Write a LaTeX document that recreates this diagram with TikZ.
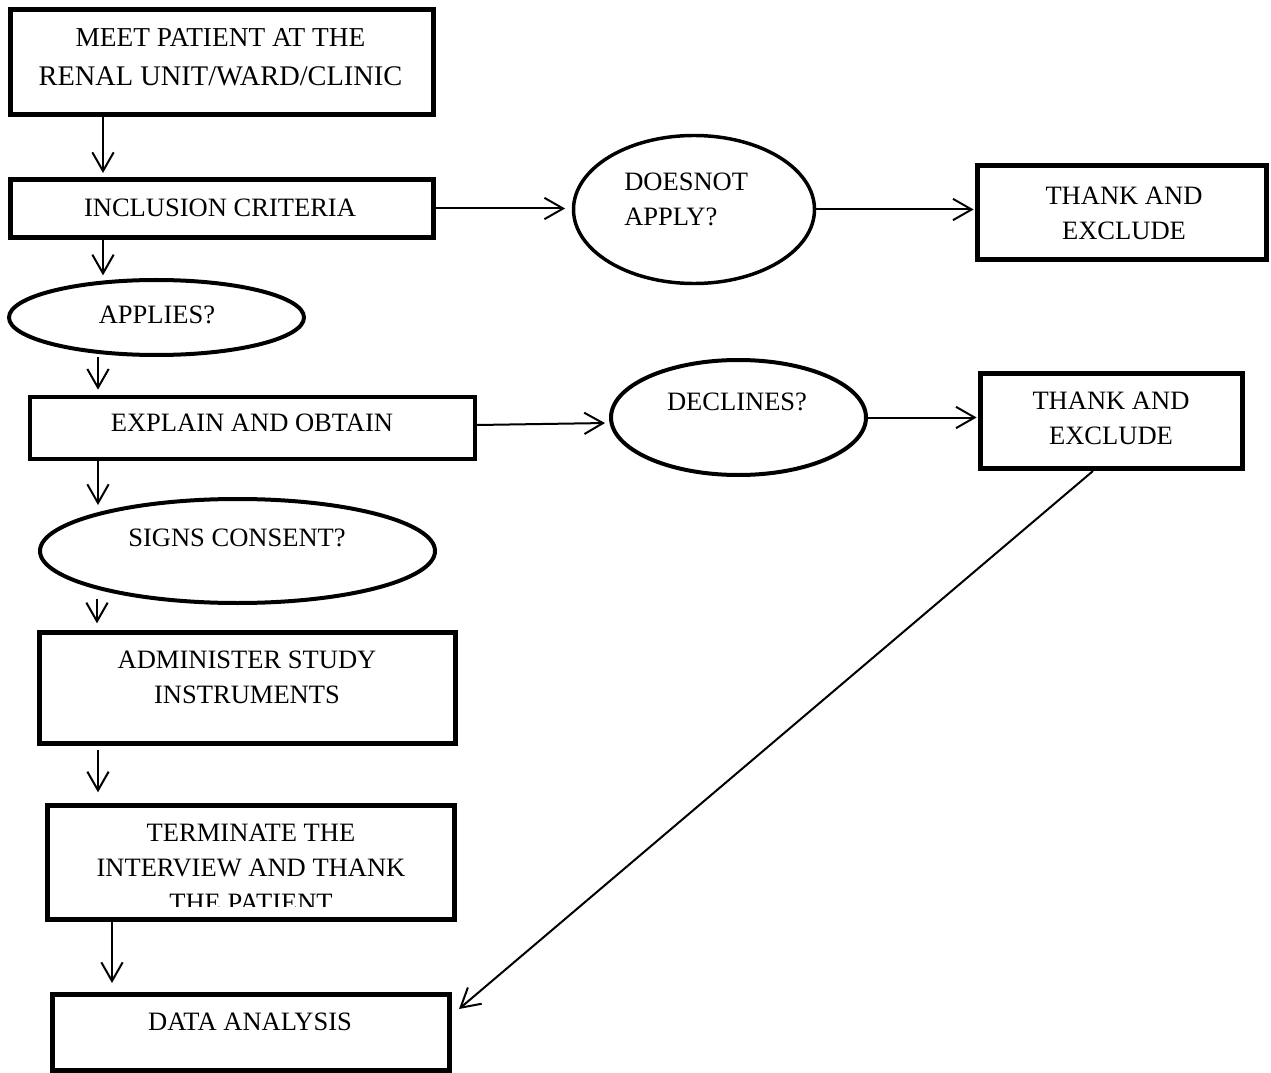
\documentclass[tikz,border=0pt]{standalone}
\usepackage{fontspec}
\setmainfont{Liberation Serif}
\usetikzlibrary{shapes.geometric,arrows.meta}
\tikzset{
  box/.style 2 args={draw=black, rectangle, inner sep=0pt, line width=3.75pt,
    minimum width=0.75pt*#1, minimum height=0.75pt*#2},
  oval/.style 2 args={draw=black, ellipse, inner sep=0pt, line width=3pt,
    minimum width=0.75pt*#1, minimum height=0.75pt*#2},
  txt/.style={inner sep=0pt, align=center, font=\fontsize{19.9}{26.25}\selectfont},
  arr/.style={line width=1.5pt, -{Straight Barb[length=14pt,width=16pt,line width=1.5pt]}},
}
\begin{document}
\begin{tikzpicture}[x=0.75pt,y=-0.75pt]
\useasboundingbox[fill=white] (0,0) rectangle (1271,1073);

% boxes and ovals
\node[box={422.5}{104.5}] (b1) at (221.75,62.25) {};
\node[box={422.5}{58}] (b2) at (221.75,208.5) {};
\node[oval={241}{148}, line width=2.6pt] (e1) at (694,209.5) {};
\node[box={289}{94}] (b3) at (1122,212.5) {};
\node[oval={295}{75}] (e2) at (156.5,317.5) {};
\node[box={445}{62}, line width=3pt] (b4) at (252.5,428) {};
\node[oval={255}{115}] (e3) at (738.5,417.5) {};
\node[box={262}{95}] (b5) at (1111.5,421) {};
\node[oval={395}{104}] (e4) at (237.5,551) {};
\node[box={416}{111}] (b6) at (247.5,688) {};
\node[box={407}{114}] (b7) at (251,862.5) {};
\node[box={397}{76}] (b8) at (251,1032.5) {};

% texts
\node[txt, font=\fontsize{20.5}{29.25}\selectfont] (t1) at (220.5,57.5)
  {MEET PATIENT AT THE\\{\fontsize{21.3}{29.25}\selectfont RENAL UNIT/WARD/CLINIC}};
\node[txt] (t2) at (220,208) {INCLUSION CRITERIA};
\node[txt, align=left, anchor=west] (t3) at (624,199.5) {DOESNOT\\APPLY?};
\node[txt] (t4) at (1124,213) {THANK AND\\EXCLUDE};
\node[txt] (t5) at (157,315) {APPLIES?};
\node[txt] (t6) at (252,423) {EXPLAIN AND OBTAIN};
\node[txt] (t7) at (737,402) {DECLINES?};
\node[txt] (t8) at (1111,418.5) {THANK AND\\EXCLUDE};
\node[txt] (t9) at (237,538) {SIGNS CONSENT?};
\node[txt] (t10) at (247,677.5) {ADMINISTER STUDY\\INSTRUMENTS};
\begin{scope}
\clip (0,0) rectangle (1271,906);
\node[txt] (t11) at (251,867.5) {TERMINATE THE\\INTERVIEW AND THANK\\THE PATIENT};
\end{scope}
\node[txt] (t12) at (250,1022) {DATA ANALYSIS};

% helper coordinates for connector x positions / free ends
\coordinate (c1) at (103,0);
\coordinate (c2) at (98,0);
\coordinate (c3) at (112,0);
\coordinate (p8) at (98,505);
\coordinate (p9) at (97,599);
\coordinate (p12s) at (1093,0);
\coordinate (p12e) at (459,1009);

% connectors
\draw[arr, shorten >=3pt] ([yshift=1.5pt]b1.south -| c1) -- (b2.north -| c1);
\draw[arr, shorten >=5pt] (b2.east) -- (e1.west |- b2.east);
\draw[arr, shorten >=1pt] (e1.east) -- (b3.west |- e1.east);
\draw[arr, shorten >=2pt] (b2.south -| c1) -- (c1 |- e2.north);
\draw[arr, shorten >=4pt] (e2.south -| c2) -- (b4.north -| c2);
\draw[arr, shorten >=3pt] ([yshift=2.25pt]b4.east) -- ([yshift=-4.1pt]e3.west);
\draw[arr, shorten >=1pt] (e3.east) -- (b5.west |- e3.east);
\draw[arr] (b4.south -| c2) -- (p8);
\draw[arr, shorten >=5pt] (p9) -- (b6.north -| p9);
\draw[arr, shorten <=3pt, shorten >=8pt] (b6.south -| c2) -- (b7.north -| c2);
\draw[arr, shorten >=6.75pt] (b7.south -| c3) -- (b8.north -| c3);
\draw[arr] (b5.south -| p12s) -- (p12e);
\end{tikzpicture}
\end{document}
